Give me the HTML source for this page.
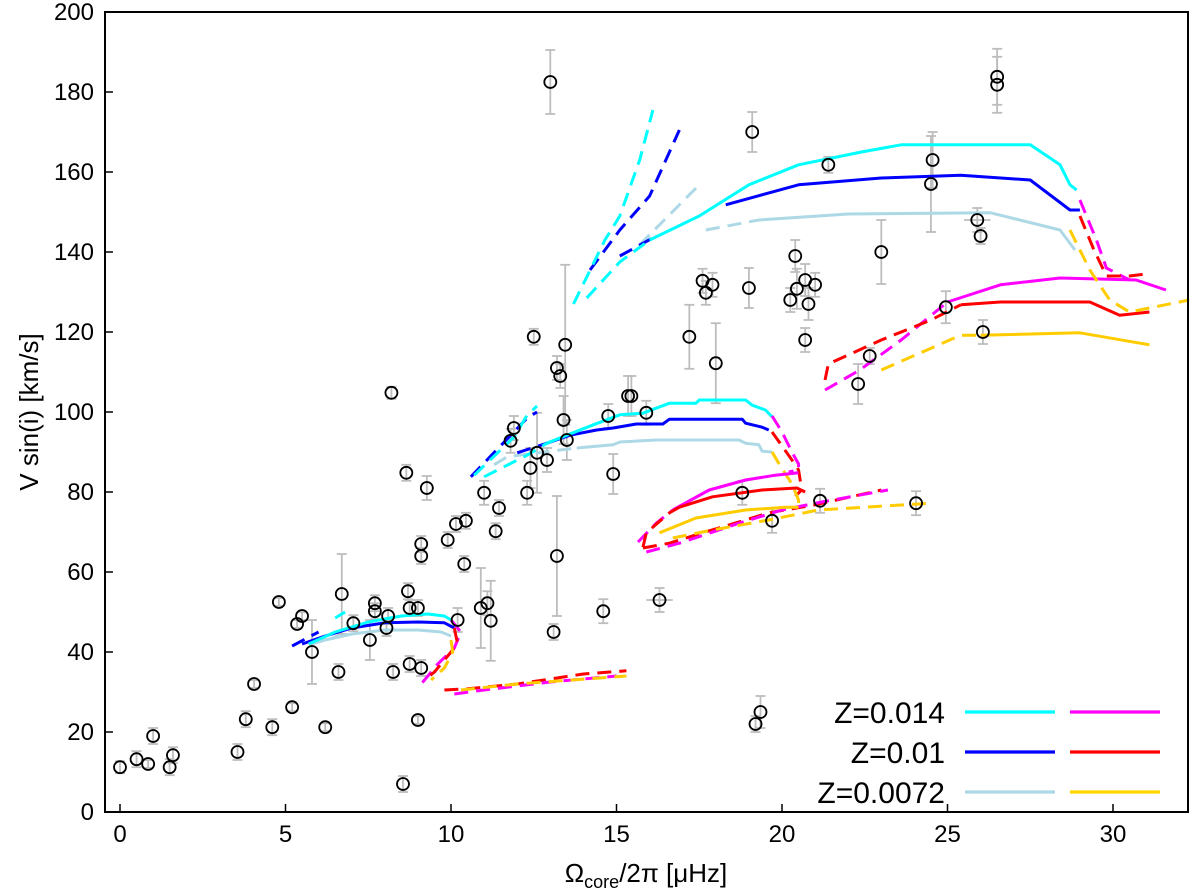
<!DOCTYPE html>
<html><head><meta charset="utf-8"><style>
body{margin:0;background:#fff;}
svg{display:block;font-family:"Liberation Sans","DejaVu Sans",sans-serif;}
</style></head><body>
<svg id="chart" width="1200" height="893" viewBox="0 0 1200 893" xmlns="http://www.w3.org/2000/svg">
<g id="errs"></g>
<g id="tracks"></g>
<g id="pts"></g>
<rect x="105" y="12" width="1083" height="800" fill="none" stroke="#000" stroke-width="2"/>
<g id="axes"></g>
<text transform="translate(38,412) rotate(-90)" text-anchor="middle" font-size="26">V sin(i) [km/s]</text>
<text x="646" y="882" text-anchor="middle" font-size="26">Ω<tspan font-size="18" dy="6">core</tspan><tspan dy="-6">/2π [μHz]</tspan></text>
<g id="legend"></g>
</svg>
<script>
const xTicks=[0,5,10,15,20,25,30];
const yTicks=[0,20,40,60,80,100,120,140,160,180,200];
const obsX=[0,0.5,0.85,1.0,1.5,1.6,3.55,3.8,4.05,4.6,4.8,5.2,5.35,5.5,5.8,6.2,6.6,6.7,7.05,7.55,7.7,7.7,8.05,8.1,8.25,8.55,8.7,8.75,8.75,9.0,9.0,9.1,8.2,8.65,9.27,9.1,9.1,9.9,10.15,10.45,10.4,11.0,11.45,11.35,11.9,11.8,12.3,12.4,12.5,12.6,12.9,13.2,13.3,13.45,13.4,13.5,13.2,14.75,15.35,15.45,15.9,14.9,17.2,18.0,18.8,19.7,19.0,20.25,17.7,17.9,17.6,13.0,13.1,14.6,16.3,19.1,21.4,23.0,24.55,24.5,25.9,26.0,26.5,26.5,24.95,26.07,22.3,22.65,20.4,20.45,20.7,20.8,21.0,20.7,21.15,24.05,19.2,19.35,10.2,10.9,11.1,11.2];
const obsY=[11.2,13.2,12,19,11.2,14.2,15,23.2,32,21.2,52.5,26.2,47,49,40,21.2,35,54.5,47.2,43,52.2,50.2,46,49,35,7,55.2,51,37,51,23,36,104.8,84.8,81,67,64,68,72,72.8,62,79.8,76,70.2,96,92.8,79.8,86,118.8,89.8,88,111,109,116.8,98,93,64,99,104,104,99.8,84.5,118.8,112.2,79.8,72.8,131,128,129.8,131.8,132.8,182.5,45,50.2,53,170,161.8,140,163,157,148,144,183.8,181.8,126.2,120,107,114,139,130.8,133,127,131.8,118,77.8,77.2,22,25,48,51,52.2,47.8];
const obsErr=[1.5,2,1,2,2,2,2,2,1,2,1,1,1,1,8,1,2,10,2,5,2,2,2,2,2,2,2,2,2,2,1,2,1.5,2,3,2,2,2,2,2,2,3,2,2,3,3,3,5,2,10,3,3,3,20,6,5,15,3,5,5,3,5,8,10,3,3,5,3,3,3,3,8,2,3,3,5,2,8,7,12,3,2,7,7,4,3,5,2,4,5,4,4,3,3,3,3,2,4,3,10,3,10];
const obsXErr=[0,0,0,0,0,0,0,0,0,0,0,0,0,0,0,0,0,0,0,0,0,0,0,0,0,0,0,0,0,0,0,0,0,0,0,0,0,0,0,0,0,0,0,0,0,0,0,0,0,0,0,0,0,0,0,0,0,0,0,0,0,0,0,0,0,0,0,0,0,0,0,0,0,0,0.4,0,0,0,0,0,0.4,0,0,0,0,0,0,0,0,0,0,0,0,0,0,0,0,0,0,0,0,0];
const cyanA=[[5.7,42],[6.5,45],[7.5,47.5],[8.5,49],[9.3,49.5],[9.8,49],[10.0,48]];
const blueA=[[5.5,42],[6.2,44],[7,46],[8,47.3],[9,47.5],[9.8,47.3],[10.1,46]];
const blueAd=[[5.2,41.5],[6.0,45]];
const cyanAd=[[6.5,48.5],[6.8,50]];
const lblueA=[[6.2,43],[7,44.5],[8,45.5],[9,45.5],[9.7,45],[10.0,44]];
const lblueAd=[[5.8,42],[6.6,44]];
const magA=[[10.0,48],[10.3,45],[10.1,41],[9.6,37],[9.1,32]];
const redA=[[10.1,46],[10.2,42],[9.8,38],[9.5,35],[9.2,33]];
const yelA=[[10.0,43],[10.05,40],[9.8,36],[9.4,33]];
const redAlow=[[9.8,30.5],[10.5,30.8],[12,32],[14,34.5],[15.3,35.3]];
const magAlow=[[10.1,29.5],[11,30.5],[13,32.5],[15,34]];
const yelAlow=[[10.3,30.5],[12,32],[15.3,34]];
const cyanB=[[12.9,92.2],[13.5,94.2],[14.3,96.8],[15.1,99.3],[15.8,99.7],[16.6,102.2],[17.4,102.2],[17.5,103],[18.9,103],[19.1,101.7],[19.5,100.5],[19.7,98.8]];
const cyanBd1=[[11.0,83.8],[12.3,89.2],[12.9,92.2]];
const cyanBd2=[[10.7,84.2],[11.9,93.7],[12.3,99.2],[12.6,101.5]];
const blueB=[[12.9,92.2],[13.6,94.2],[14.4,95.5],[14.9,96],[15.6,97],[16.4,97],[16.6,98.2],[18.8,98.2],[18.9,97.2],[19.4,96.2],[19.6,95.5]];
const blueBd1=[[10.6,83.8],[11.9,95],[12.3,98.5],[12.6,100]];
const blueBd2=[[12.0,89.8],[12.9,92.2]];
const lblueB=[[13.8,91],[14.9,91.8],[15.1,92.5],[16.2,93],[18.7,93],[18.9,92.2],[19.3,91.8],[19.4,90.2],[19.7,90]];
const lblueBd=[[11.3,86.8],[11.7,88.8],[12.6,89.8],[13.8,91]];
const magB=[[19.7,99],[20.0,95],[20.3,90],[20.5,87],[20.5,85.5],[20.2,85]];
const redB=[[19.7,95],[20.3,88],[20.5,85.5],[20.6,80.5],[20.4,79]];
const yelB=[[19.7,90],[19.9,87.2],[20.3,82],[20.5,78],[20.5,76]];
const magLoop=[[16.7,75.5],[17.8,80.5],[18.9,83],[19.8,84.2],[20.5,84.8]];
const magLoopd=[[15.65,67.5],[16.2,72.2],[16.7,75.5]];
const redLoop=[[16.9,76.2],[17.9,78.8],[19.4,80.5],[20.45,81],[20.7,80]];
const redLoopd=[[15.8,66.2],[15.9,69.8],[16.6,74.8],[16.9,76.2]];
const redLow=[[15.8,66],[16.6,67.2],[17.6,69.8],[18.7,72.5],[19.6,74.8],[21,76.8],[23,80.5]];
const magLow=[[15.9,65],[16.9,67.2],[18.7,72.2],[20,75.5],[21.2,77.5],[23.2,80.5]];
const yelLoop=[[16.3,69.8],[17.4,73.5],[18.9,75.5],[20.1,76.2],[20.5,76.2]];
const yelLow=[[16.7,68.5],[17.9,70.5],[19.6,73],[21.1,75.5],[24.5,77.2]];
const cyanC=[[16.0,143],[17.5,149],[19.0,156.8],[20.5,161.8],[22.4,165],[23.6,166.8],[27.5,166.8],[28.4,161.8],[28.7,156.8],[28.9,155.5]];
const cyanCd1=[[13.7,127],[14.65,143],[15.1,149],[15.7,163],[16.1,175.5]];
const cyanCd2=[[14.1,128.5],[15.1,137.5],[16.0,143]];
const blueC=[[18.3,151.8],[20.5,156.8],[23,158.5],[25.4,159.2],[27.5,158],[28.7,150.5],[29,150.5]];
const blueCd=[[14.2,135.5],[15.1,145.5],[16.0,154],[16.9,170.5]];
const blueCd2=[[15.1,139],[16.2,144]];
const lblueC=[[19.3,148],[22,149.5],[26.3,149.8],[28.4,145.5],[28.85,140.5]];
const lblueCd=[[15.7,141.8],[17.5,156.8]];
const lblueCd2=[[17.7,145.5],[19.3,148]];
const magC=[[25,127.5],[26.6,131.8],[28.4,133.5],[30.7,133],[31.6,130.5]];
const magCd=[[21.3,105.5],[22.35,110.5],[23.6,118],[25,127.5]];
const magCd2=[[29,153],[29.5,143],[29.8,136],[30.5,133]];
const redC=[[25.4,126.8],[26.6,127.5],[29.3,127.5],[30.2,124.2],[31.1,125]];
const redCd=[[21.3,108],[21.4,112],[23,118],[24.5,123],[25.4,126.8]];
const redCd2=[[29,149],[29.4,141],[29.8,134],[30.5,134],[31.0,134.5]];
const yelC=[[26,119.2],[29,119.8],[31.1,116.8]];
const yelCd=[[23,110.5],[25.4,119.2],[26,119.2]];
const yelCd2=[[28.7,145.5],[29.3,135.5],[29.9,128],[30.5,125],[32.3,128]];
const legendLabels=["Z=0.014","Z=0.01","Z=0.0072"];
const legendColorsA=["#00ffff","#0000ff","#add8e6"];
const legendColorsB=["#ff00ff","#ff0000","#ffd700"];

const NS="http://www.w3.org/2000/svg";
const X0=105,X1=1188,Y0=812,Y1=12;
function sx(v){return 120+v*33.1;}
function sy(v){return 812-v*4.0;}
function mk(tag,attrs,parent){const e=document.createElementNS(NS,tag);for(const k in attrs)e.setAttribute(k,attrs[k]);parent.appendChild(e);return e;}
const axes=document.getElementById('axes');
xTicks.forEach(t=>{
  const l=mk('line',{x1:sx(t),x2:sx(t),y1:Y0,y2:Y0-8,stroke:'#000','stroke-width':1.5},axes);
  
  
  const tx=mk('text',{x:sx(t),y:842,'text-anchor':'middle','font-size':24},axes);
  
  
  tx.textContent=t;
});
yTicks.forEach(t=>{
  const l=mk('line',{x1:X0,x2:X0+8,y1:sy(t),y2:sy(t),stroke:'#000','stroke-width':1.5},axes);
  
  
  const tx=mk('text',{x:94,y:sy(t)+8,'text-anchor':'end','font-size':24},axes);
  
  
  tx.textContent=t;
});
const errs=document.getElementById('errs'),pts=document.getElementById('pts');
obsX.forEach((x,i)=>{
  const y=obsY[i],e=obsErr[i]||0,xe=obsXErr[i]||0;
  const g=mk('g',{stroke:'#bdbdbd','stroke-width':1.8},errs);
  
  
  if(e>0){
    mk('line',{x1:sx(x),x2:sx(x),y1:sy(y-e),y2:sy(y+e)},g);
    mk('line',{x1:sx(x)-5,x2:sx(x)+5,y1:sy(y-e),y2:sy(y-e)},g);
    mk('line',{x1:sx(x)-5,x2:sx(x)+5,y1:sy(y+e),y2:sy(y+e)},g);
  }
  if(xe>0){
    mk('line',{x1:sx(x-xe),x2:sx(x+xe),y1:sy(y),y2:sy(y)},g);
  }
  const c=mk('circle',{cx:sx(x),cy:sy(y),r:6,fill:'none',stroke:'#000','stroke-width':1.8},pts);
  
  
});
const tr=document.getElementById('tracks');
function track(arr,color,dashed,name){
  const p=mk('polyline',{points:arr.map(d=>sx(d[0])+','+sy(d[1])).join(' '),fill:'none',stroke:color,'stroke-width':3,'stroke-linejoin':'round'},tr);
  if(dashed)p.setAttribute('stroke-dasharray','14 8');
  
  
}
const C='#00ffff',B='#0000ff',L='#add8e6',M='#ff00ff',R='#ff0000',Y='#ffcc00';
track(lblueA,L,false,'track-z0072-low');track(lblueAd,L,true,'track-z0072-low-dash');
track(blueA,B,false,'track-z001-low');track(blueAd,B,true,'track-z001-low-dash');
track(cyanA,C,false,'track-z0014-low');track(cyanAd,C,true,'track-z0014-low-dash');
track(magA,M,true,'track-mag-low');track(redA,R,true,'track-red-low');track(yelA,Y,true,'track-yel-low');
track(redAlow,R,true,'track-red-low-b');track(magAlow,M,true,'track-mag-low-b');track(yelAlow,Y,true,'track-yel-low-b');
track(lblueB,L,false,'track-z0072-mid');track(lblueBd,L,true,'track-z0072-mid-dash');
track(blueB,B,false,'track-z001-mid');track(blueBd1,B,true,'track-z001-mid-dash');track(blueBd2,B,true,'track-z001-mid-dash2');
track(cyanB,C,false,'track-z0014-mid');track(cyanBd1,C,true,'track-z0014-mid-dash');track(cyanBd2,C,true,'track-z0014-mid-dash2');
track(magB,M,true,'track-mag-mid');track(redB,R,true,'track-red-mid');track(yelB,Y,true,'track-yel-mid');
track(magLoop,M,false,'track-mag-loop');track(magLoopd,M,true,'track-mag-loop-dash');
track(redLoop,R,false,'track-red-loop');track(redLoopd,R,true,'track-red-loop-dash');
track(redLow,R,true,'track-red-loop-low');track(magLow,M,true,'track-mag-loop-low');
track(yelLoop,Y,false,'track-yel-loop');track(yelLow,Y,true,'track-yel-loop-low');
track(lblueC,L,false,'track-z0072-high');track(lblueCd,L,true,'track-z0072-high-dash');track(lblueCd2,L,true,'track-z0072-high-dash2');
track(blueC,B,false,'track-z001-high');track(blueCd,B,true,'track-z001-high-dash');track(blueCd2,B,true,'track-z001-high-dash2');
track(cyanC,C,false,'track-z0014-high');track(cyanCd1,C,true,'track-z0014-high-dash');track(cyanCd2,C,true,'track-z0014-high-dash2');
track(magC,M,false,'track-mag-high');track(magCd,M,true,'track-mag-high-dash');track(magCd2,M,true,'track-mag-high-dash2');
track(redC,R,false,'track-red-high');track(redCd,R,true,'track-red-high-dash');track(redCd2,R,true,'track-red-high-dash2');
track(yelC,Y,false,'track-yel-high');track(yelCd,Y,true,'track-yel-high-dash');track(yelCd2,Y,true,'track-yel-high-dash2');
const lg=document.getElementById('legend');
legendLabels.forEach((lab,i)=>{
  const y=712+i*40;
  const t=mk('text',{x:945,y:y+11,'text-anchor':'end','font-size':30},lg);
  
  
  t.textContent=lab;
  const a=mk('line',{x1:965,x2:1055,y1:y,y2:y,stroke:legendColorsA[i],'stroke-width':3.2},lg);
  
  
  const b=mk('line',{x1:1070,x2:1160,y1:y,y2:y,stroke:legendColorsB[i],'stroke-width':3.2},lg);
  
  
});
</script>
</body></html>
